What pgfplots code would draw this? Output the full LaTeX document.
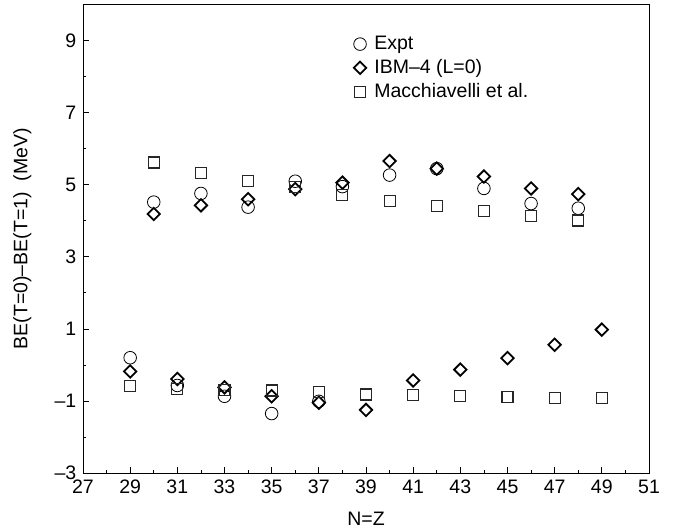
\documentclass[border=0pt]{standalone}
\usepackage{fontspec}
\setmainfont{Liberation Sans}
\usepackage{pgfplots}
\pgfplotsset{compat=1.18}
\begin{document}
\fontsize{19.5}{23}\selectfont
\begin{tikzpicture}
\useasboundingbox (-83pt,-58pt) rectangle (591pt,473pt);
\begin{axis}[
  at={(0pt,0pt)}, anchor=south west,
  scale only axis, width=566pt, height=468.3pt,
  xmin=27, xmax=51, ymin=-3, ymax=10,
  xtick={27,29,...,51}, ytick={-3,-1,...,9},
  yticklabels={–3,–1,1,3,5,7,9},
  minor x tick num=1, minor y tick num=1,
  tick pos=left, tick align=inside,
  major tick length=6pt, minor tick length=3.5pt,
  every tick/.style={black, line width=0.8pt},
  axis line style={line width=0.9pt},
  /pgf/number format/assume math mode=true,
  tick label style={font=\fontsize{19.5}{23}\selectfont},
  label style={font=\fontsize{19.5}{23}\selectfont},
  xlabel={N=Z}, ylabel={BE(T=0)–BE(T=1)\ \ (MeV)},
  ylabel style={yshift=10pt},
  xlabel style={yshift=-5pt},
  legend style={at={(rel axis cs:0.478,0.938)}, anchor=north west, draw=none, fill=none,
    font=\fontsize{19.5}{23}\selectfont, row sep=3pt, column sep=6pt, inner sep=0pt},
  legend cell align=left,
]
\addplot[only marks, mark=o, mark size=6.3pt, black, line width=0.8pt] coordinates {
(30,4.52)(32,4.76)(34,4.38)(36,5.10)(38,4.95)(40,5.27)(42,5.45)(44,4.90)(46,4.48)(48,4.35)
(29,0.20)(31,-0.57)(33,-0.87)(35,-1.35)(37,-1.01)};
\addlegendentry{Expt}
\addplot[only marks, mark=square, mark size=4.4pt, black, line width=1.8pt, mark options={rotate=45}] coordinates {
(30,4.19)(32,4.43)(34,4.60)(36,4.88)(38,5.06)(40,5.66)(42,5.45)(44,5.23)(46,4.90)(48,4.74)
(29,-0.18)(31,-0.39)(33,-0.62)(35,-0.87)(37,-1.05)(39,-1.25)(41,-0.43)(43,-0.13)(45,0.19)(47,0.56)(49,0.98)};
\addlegendentry{IBM–4 (L=0)}
\addplot[only marks, mark=square, mark size=5.5pt, black!85, line width=1.1pt] coordinates {
(30,5.62)(32,5.34)(34,5.11)(36,4.93)(38,4.71)(40,4.55)(42,4.40)(44,4.27)(46,4.13)(48,4.01)
(29,-0.59)(31,-0.66)(33,-0.70)(35,-0.71)(37,-0.76)(39,-0.82)(41,-0.84)(43,-0.87)(45,-0.89)(47,-0.91)(49,-0.93)};
\addlegendentry{Macchiavelli et al.}
\end{axis}
\end{tikzpicture}
\end{document}
